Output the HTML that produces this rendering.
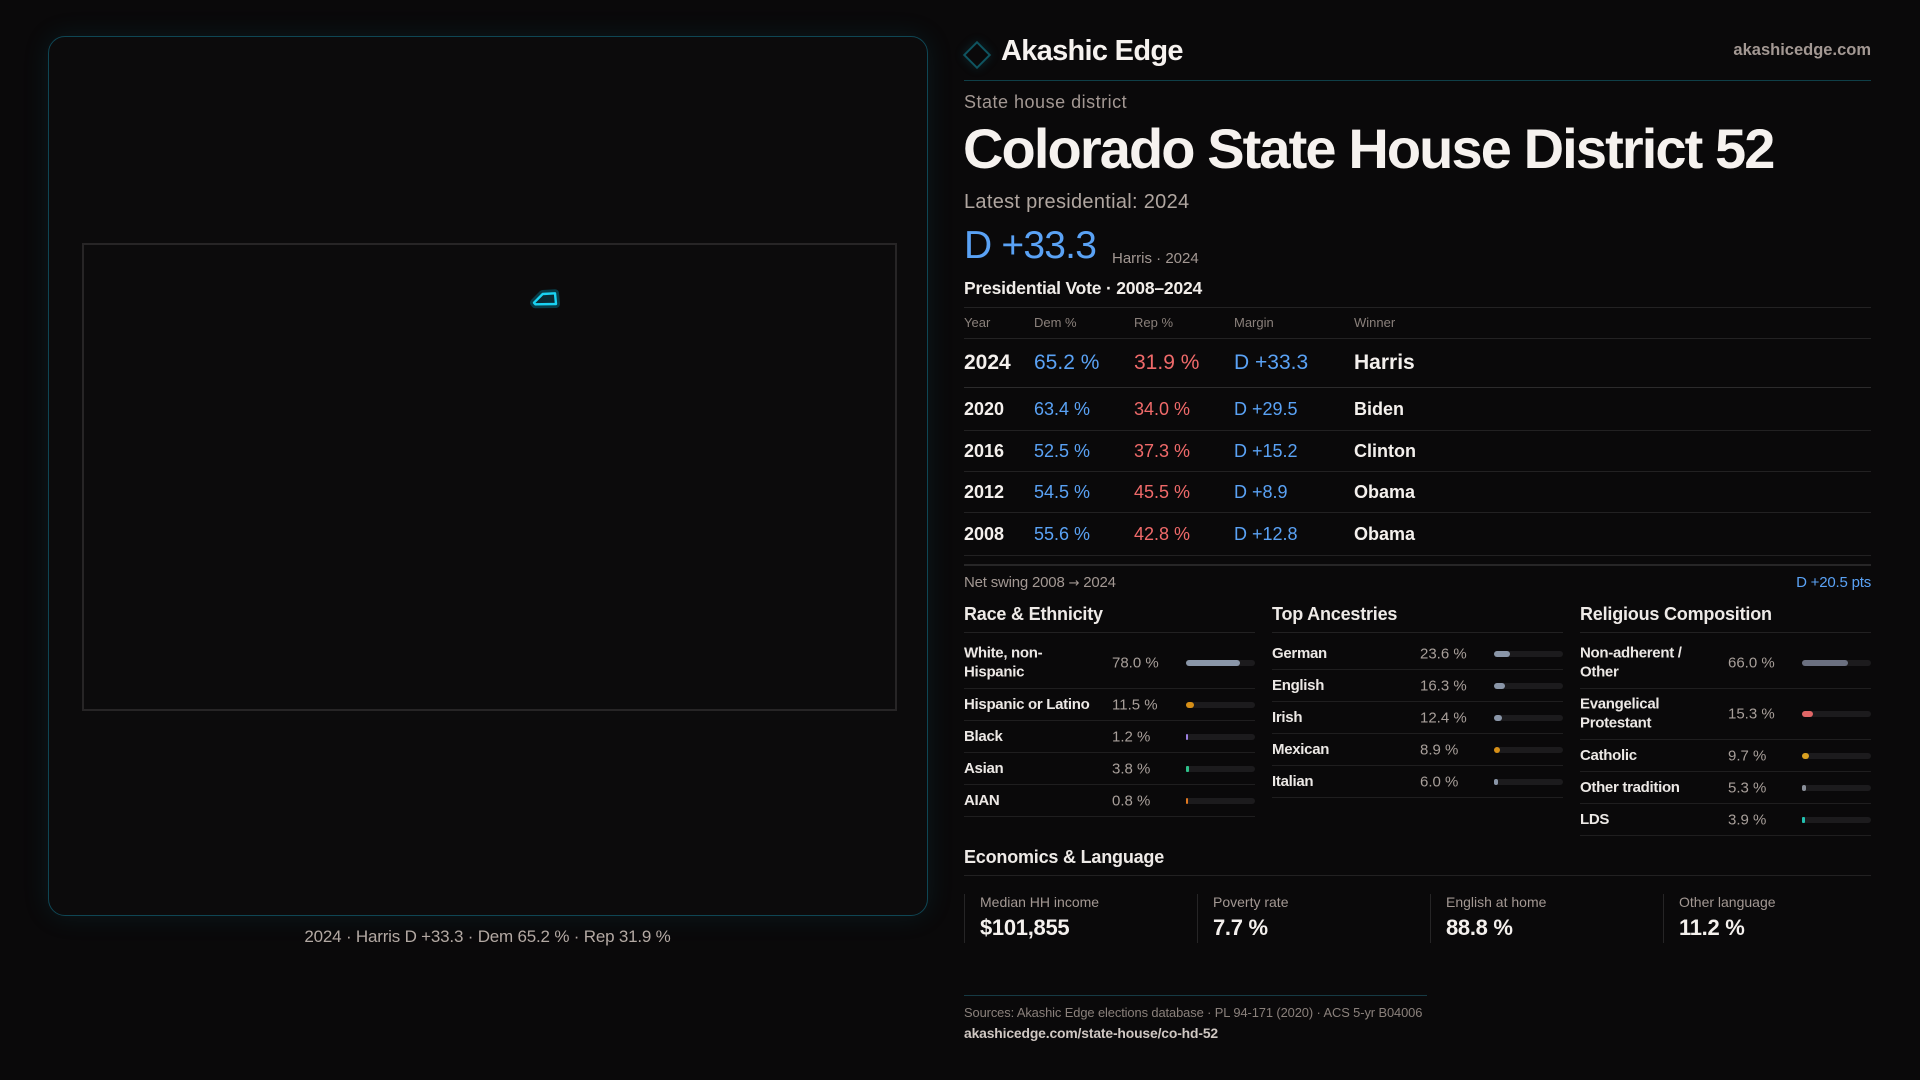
<!DOCTYPE html>
<html><head><meta charset="utf-8"><style>
*{margin:0;padding:0;box-sizing:border-box}
html,body{width:1920px;height:1080px;overflow:hidden;background:#0a090a;font-family:"Liberation Sans",sans-serif;color:#f1ede9}
.t{position:absolute;line-height:1;white-space:nowrap}
.panel{position:absolute;left:48px;top:36px;width:880px;height:880px;border:1px solid #0f4654;border-radius:17px;background:#0c0b0c;box-shadow:0 0 26px rgba(20,110,130,0.16)}
.inner{position:absolute;left:82px;top:243px;width:815px;height:468px;border:2px solid #272526}
.hl{position:absolute;height:1px}
.cell{position:absolute;line-height:1;white-space:nowrap}
.sec{position:absolute;top:604px;width:291px}
.sec h3{position:absolute;left:0;top:1px;font-size:18px;font-weight:bold;line-height:1;color:#eeeae7;white-space:nowrap;letter-spacing:-0.2px}
.sec .ul{position:absolute;left:0;top:28px;width:291px;height:1px;background:#222122}
.r{position:absolute;left:0;width:291px;border-bottom:1px solid #1f1e1f}
.r .lb{position:absolute;left:0;top:50%;transform:translateY(-50%);font-size:15px;line-height:18.5px;color:#ece8e5;white-space:nowrap;font-weight:bold;letter-spacing:-0.3px}
.r .v{position:absolute;left:148px;top:50%;transform:translateY(-50%);font-size:15px;line-height:1;color:#a89f9a;white-space:nowrap}
.r .bar{position:absolute;left:222px;top:50%;margin-top:-3px;width:69px;height:6px;border-radius:3px;background:#1c1b1d}
.r .bar i{position:absolute;left:0;top:0;height:6px;border-radius:3px;display:block}
.card{position:absolute;top:894px;height:49px;border-left:1px solid #262526}
.card .l{position:absolute;left:15px;top:1px;font-size:14px;line-height:1;color:#a39893;white-space:nowrap}
.card .n{position:absolute;left:15px;top:23px;font-size:22px;font-weight:bold;line-height:1;color:#f4f0ed;white-space:nowrap;letter-spacing:-0.3px}
</style></head><body>

<div class="panel"></div>
<div class="inner"></div>
<svg style="position:absolute;left:0;top:0" width="960" height="1080">
  <polygon points="534,302.7 542.7,294 555,293.3 556,304 535.3,304.3" fill="none" stroke="rgba(0,190,225,0.28)" stroke-width="8" stroke-linejoin="round"/>
  <polygon points="534,302.7 542.7,294 555,293.3 556,304 535.3,304.3" fill="#0b2a33" stroke="#1ad2f2" stroke-width="2.4" stroke-linejoin="round"/>
</svg>
<div class="t" style="left:0;width:975px;text-align:center;top:928px;font-size:17px;color:#b3a9a3;letter-spacing:-0.2px">2024 · Harris D +33.3 · Dem 65.2 % · Rep 31.9 %</div>

<!-- header -->
<div style="position:absolute;left:967px;top:45px;width:20px;height:20px;border:2px solid #0f5460;transform:rotate(45deg);box-shadow:0 0 10px rgba(20,120,140,0.25)"></div>
<div class="t" style="left:1001px;top:36.5px;font-size:29px;font-weight:bold;letter-spacing:-0.7px;color:#f6f2ef">Akashic Edge</div>
<div class="t" style="right:49px;top:42px;font-size:16.5px;font-weight:bold;color:#a39893;letter-spacing:0px">akashicedge.com</div>
<div class="hl" style="left:964px;top:80px;width:907px;background:#0f3f48"></div>

<div class="t" style="left:964px;top:92.5px;font-size:18px;color:#a39893;letter-spacing:0.5px">State house district</div>
<div class="t" style="left:963px;top:120.5px;font-size:56px;font-weight:bold;letter-spacing:-1.9px;color:#f6f2ef">Colorado State House District 52</div>
<div class="t" style="left:964px;top:192px;font-size:20px;color:#b0a6a0;letter-spacing:0.3px">Latest presidential: 2024</div>
<div class="t" style="left:964px;top:226.3px;font-size:39px;color:#5aa2f5;letter-spacing:-0.8px">D +33.3</div>
<div class="t" style="left:1112px;top:250.5px;font-size:15px;color:#a39893">Harris · 2024</div>
<div class="t" style="left:964px;top:279.5px;font-size:17.5px;font-weight:bold;color:#f1ede9;letter-spacing:-0.2px">Presidential Vote · 2008–2024</div>

<!-- table -->
<div class="hl" style="left:964px;top:307px;width:907px;background:#232223"></div>
<div class="hl" style="left:964px;top:338px;width:907px;background:#232223"></div>
<div class="hl" style="left:964px;top:387px;width:907px;background:#2c2b2c"></div>
<div class="hl" style="left:964px;top:430px;width:907px;background:#222122"></div>
<div class="hl" style="left:964px;top:471px;width:907px;background:#222122"></div>
<div class="hl" style="left:964px;top:512px;width:907px;background:#222122"></div>
<div class="hl" style="left:964px;top:555px;width:907px;background:#222122"></div>
<div class="hl" style="left:964px;top:564px;width:907px;height:2px;background:#272627"></div>

<div style="position:absolute;left:964px;top:316px;font-size:13px;line-height:1;color:#8a807b">
  <span class="cell" style="left:0">Year</span><span class="cell" style="left:70px">Dem %</span><span class="cell" style="left:170px">Rep %</span><span class="cell" style="left:270px">Margin</span><span class="cell" style="left:390px">Winner</span>
</div>
<div style="position:absolute;left:964px;top:351.5px;font-size:21px">
  <span class="cell" style="left:0;font-weight:bold;color:#f4f0ed">2024</span><span class="cell" style="left:70px;color:#5aa2f5">65.2 %</span><span class="cell" style="left:170px;color:#f06a6a">31.9 %</span><span class="cell" style="left:270px;color:#5aa2f5">D +33.3</span><span class="cell" style="left:390px;font-weight:bold;color:#f4f0ed">Harris</span>
</div>
<div style="position:absolute;left:964px;top:399.5px;font-size:18px">
  <span class="cell" style="left:0;font-weight:bold;color:#f4f0ed">2020</span><span class="cell" style="left:70px;color:#5aa2f5">63.4 %</span><span class="cell" style="left:170px;color:#f06a6a">34.0 %</span><span class="cell" style="left:270px;color:#5aa2f5">D +29.5</span><span class="cell" style="left:390px;font-weight:bold;color:#f4f0ed">Biden</span>
</div>
<div style="position:absolute;left:964px;top:441.5px;font-size:18px">
  <span class="cell" style="left:0;font-weight:bold;color:#f4f0ed">2016</span><span class="cell" style="left:70px;color:#5aa2f5">52.5 %</span><span class="cell" style="left:170px;color:#f06a6a">37.3 %</span><span class="cell" style="left:270px;color:#5aa2f5">D +15.2</span><span class="cell" style="left:390px;font-weight:bold;color:#f4f0ed">Clinton</span>
</div>
<div style="position:absolute;left:964px;top:482.5px;font-size:18px">
  <span class="cell" style="left:0;font-weight:bold;color:#f4f0ed">2012</span><span class="cell" style="left:70px;color:#5aa2f5">54.5 %</span><span class="cell" style="left:170px;color:#f06a6a">45.5 %</span><span class="cell" style="left:270px;color:#5aa2f5">D +8.9</span><span class="cell" style="left:390px;font-weight:bold;color:#f4f0ed">Obama</span>
</div>
<div style="position:absolute;left:964px;top:524.5px;font-size:18px">
  <span class="cell" style="left:0;font-weight:bold;color:#f4f0ed">2008</span><span class="cell" style="left:70px;color:#5aa2f5">55.6 %</span><span class="cell" style="left:170px;color:#f06a6a">42.8 %</span><span class="cell" style="left:270px;color:#5aa2f5">D +12.8</span><span class="cell" style="left:390px;font-weight:bold;color:#f4f0ed">Obama</span>
</div>

<div class="t" style="left:964px;top:575px;font-size:15px;color:#a39893;letter-spacing:-0.2px">Net swing 2008 <span style="font-family:'DejaVu Sans',sans-serif;font-size:13px">→</span> 2024</div>
<div class="t" style="right:49px;top:575px;font-size:15px;color:#5aa2f5;letter-spacing:-0.2px">D +20.5 pts</div>

<!-- Race -->
<div class="sec" style="left:964px">
  <h3>Race &amp; Ethnicity</h3><div class="ul"></div>
</div>
<div class="r" style="left:964px;top:638px;height:51px"><div class="lb">White, non-<br>Hispanic</div><div class="v">78.0 %</div><div class="bar"><i style="width:54px;background:#8a96a8"></i></div></div>
<div class="r" style="left:964px;top:689px;height:32px"><div class="lb">Hispanic or Latino</div><div class="v">11.5 %</div><div class="bar"><i style="width:8px;background:#d68f17"></i></div></div>
<div class="r" style="left:964px;top:721px;height:32px"><div class="lb">Black</div><div class="v">1.2 %</div><div class="bar"><i style="width:2px;background:#9b7fe0;border-radius:1px"></i></div></div>
<div class="r" style="left:964px;top:753px;height:32px"><div class="lb">Asian</div><div class="v">3.8 %</div><div class="bar"><i style="width:3px;background:#2ec08a;border-radius:1px"></i></div></div>
<div class="r" style="left:964px;top:785px;height:32px"><div class="lb">AIAN</div><div class="v">0.8 %</div><div class="bar"><i style="width:2px;background:#e07820;border-radius:1px"></i></div></div>

<!-- Ancestries -->
<div class="sec" style="left:1272px">
  <h3>Top Ancestries</h3><div class="ul"></div>
</div>
<div class="r" style="left:1272px;top:638px;height:32px"><div class="lb">German</div><div class="v">23.6 %</div><div class="bar"><i style="width:16px;background:#8a96a8"></i></div></div>
<div class="r" style="left:1272px;top:670px;height:32px"><div class="lb">English</div><div class="v">16.3 %</div><div class="bar"><i style="width:11px;background:#8a96a8"></i></div></div>
<div class="r" style="left:1272px;top:702px;height:32px"><div class="lb">Irish</div><div class="v">12.4 %</div><div class="bar"><i style="width:8px;background:#8a96a8"></i></div></div>
<div class="r" style="left:1272px;top:734px;height:32px"><div class="lb">Mexican</div><div class="v">8.9 %</div><div class="bar"><i style="width:6px;background:#d68f17"></i></div></div>
<div class="r" style="left:1272px;top:766px;height:32px"><div class="lb">Italian</div><div class="v">6.0 %</div><div class="bar"><i style="width:4px;background:#8a96a8;border-radius:2px"></i></div></div>

<!-- Religious -->
<div class="sec" style="left:1580px">
  <h3>Religious Composition</h3><div class="ul"></div>
</div>
<div class="r" style="left:1580px;top:638px;height:51px"><div class="lb">Non-adherent /<br>Other</div><div class="v">66.0 %</div><div class="bar"><i style="width:46px;background:#6b7080"></i></div></div>
<div class="r" style="left:1580px;top:689px;height:51px"><div class="lb">Evangelical<br>Protestant</div><div class="v">15.3 %</div><div class="bar"><i style="width:11px;background:#e06666"></i></div></div>
<div class="r" style="left:1580px;top:740px;height:32px"><div class="lb">Catholic</div><div class="v">9.7 %</div><div class="bar"><i style="width:7px;background:#d9a020"></i></div></div>
<div class="r" style="left:1580px;top:772px;height:32px"><div class="lb">Other tradition</div><div class="v">5.3 %</div><div class="bar"><i style="width:4px;background:#8a8f99;border-radius:2px"></i></div></div>
<div class="r" style="left:1580px;top:804px;height:32px"><div class="lb">LDS</div><div class="v">3.9 %</div><div class="bar"><i style="width:3px;background:#22c0b0;border-radius:1px"></i></div></div>

<!-- Economics -->
<div class="t" style="left:964px;top:847.5px;font-size:18px;font-weight:bold;color:#eeeae7;letter-spacing:-0.2px">Economics &amp; Language</div>
<div class="hl" style="left:964px;top:875px;width:907px;background:#222122"></div>
<div class="card" style="left:964px"><div class="l">Median HH income</div><div class="n">$101,855</div></div>
<div class="card" style="left:1197px"><div class="l">Poverty rate</div><div class="n">7.7 %</div></div>
<div class="card" style="left:1430px"><div class="l">English at home</div><div class="n">88.8 %</div></div>
<div class="card" style="left:1663px"><div class="l">Other language</div><div class="n">11.2 %</div></div>

<!-- footer -->
<div class="hl" style="left:964px;top:995px;width:463px;background:#163a44"></div>
<div class="t" style="left:964px;top:1006.8px;font-size:12.9px;color:#8a807b;letter-spacing:-0.1px">Sources: Akashic Edge elections database · PL 94-171 (2020) · ACS 5-yr B04006</div>
<div class="t" style="left:964px;top:1026.6px;font-size:13.9px;font-weight:bold;color:#cfc7c2;letter-spacing:-0.15px">akashicedge.com/state-house/co-hd-52</div>

</body></html>
